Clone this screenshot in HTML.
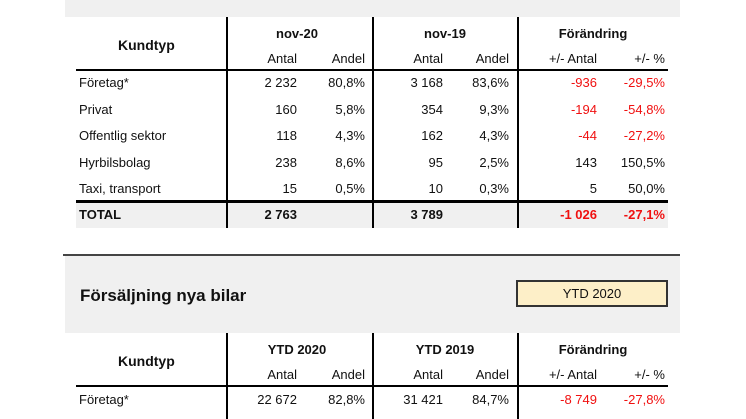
<!DOCTYPE html>
<html><head><meta charset="utf-8">
<style>
body{margin:0;width:746px;height:419px;overflow:hidden;background:#fff;font-family:"Liberation Sans",sans-serif;color:#111;position:relative}
.a{position:absolute;white-space:nowrap;font-size:13px;line-height:15px}
.r{text-align:right}
.b{font-weight:bold}
.red{color:#f01010}
.bg{position:absolute;background:#f0f0f0}
.vl{position:absolute;width:2px;background:#000}
.hl{position:absolute;height:2px;background:#000}
</style></head><body>
<div class="bg" style="left:65px;top:0;width:615px;height:17px"></div>
<div class="bg" style="left:76px;top:203px;width:592px;height:25px"></div>
<div class="hl" style="left:63px;top:254px;width:617px;background:#444"></div>
<div class="bg" style="left:65px;top:256px;width:615px;height:77px"></div>
<div class="a b" style="left:80px;top:286px;font-size:17px;line-height:20px">Försäljning nya bilar</div>
<div class="a" style="left:516px;top:280px;width:148px;height:23px;border:2px solid #333;background:#fdefc8;text-align:center;font-size:13px;line-height:23px">YTD 2020</div>
<div id="root"></div>
<script>
const categories=["Företag*","Privat","Offentlig sektor","Hyrbilsbolag","Taxi, transport"];
const antal20=["2 232","160","118","238","15"];
const andel20=["80,8%","5,8%","4,3%","8,6%","0,5%"];
const antal19=["3 168","354","162","95","10"];
const andel19=["83,6%","9,3%","4,3%","2,5%","0,3%"];
const diffAntal=["-936","-194","-44","143","5"];
const diffPct=["-29,5%","-54,8%","-27,2%","150,5%","50,0%"];
const totals=["2 763","3 789","-1 026","-27,1%"];
const ytdCategories=["Företag*"];
const ytdAntal20=["22 672"];const ytdAndel20=["82,8%"];
const ytdAntal19=["31 421"];const ytdAndel19=["84,7%"];
const ytdDiffAntal=["-8 749"];const ytdDiffPct=["-27,8%"];
const root=document.getElementById('root');
const rights=[297,365,443,509,597,665];
function txt(s,x,y,cls,name,right){const d=document.createElement('div');d.className='a '+(cls||'');d.textContent=s;
if(right){d.style.right=(746-x)+'px';}else d.style.left=x+'px';d.style.top=y+'px';


root.appendChild(d);return d;}
function line(cls,x,y,w,h,name){const d=document.createElement('div');d.className=cls;d.style.left=x+'px';d.style.top=y+'px';if(w)d.style.width=w+'px';if(h)d.style.height=h+'px';


root.appendChild(d);}
function header(top,groups){
 const k=txt("Kundtyp",118,top+21,'b','kundtyp-header');k.style.fontSize='14px';
 const gx=[297,445,593];
 groups.forEach((g,i)=>{const d=txt(g,gx[i]-60,top+9,'b','group-header');d.style.width='120px';d.style.textAlign='center';d.style.fontSize='13px';});
 const subs=["Antal","Andel","Antal","Andel","+/- Antal","+/- %"];
 subs.forEach((s,i)=>txt(s,rights[i],top+34,'r','sub-header',true));
 line('hl',76,top+52,592,0,'header-rule');
}
function neg(s){return s.trim().startsWith('-')?'red':'';}
function rows(top,cats,cols,step){
 cats.forEach((c,i)=>{const y=top+i*step;
  txt(c,79,y,'','category-label');
  cols.forEach((col,j)=>txt(col[i],rights[j],y,j>=4?neg(col[i]):'','cell-value',true));});
}
header(17,["nov-20","nov-19","Förändring"]);
rows(75,categories,[antal20,andel20,antal19,andel19,diffAntal,diffPct],26.5);
line('hl',76,200,592,3,'total-rule');
txt("TOTAL",79,207,'b','total-label');
[[totals[0],rights[0]],[totals[1],rights[2]],[totals[2],rights[4]],[totals[3],rights[5]]].forEach((t,i)=>txt(t[0],t[1],207,'b '+(i>=2?neg(t[0]):''),'total-value',true));
[226,372,517].forEach(x=>line('vl',x,17,0,211,'column-divider'));
header(333,["YTD 2020","YTD 2019","Förändring"]);
rows(392,ytdCategories,[ytdAntal20,ytdAndel20,ytdAntal19,ytdAndel19,ytdDiffAntal,ytdDiffPct],26.5);
[226,372,517].forEach(x=>line('vl',x,333,0,86,'column-divider'));
</script>
</body></html>
